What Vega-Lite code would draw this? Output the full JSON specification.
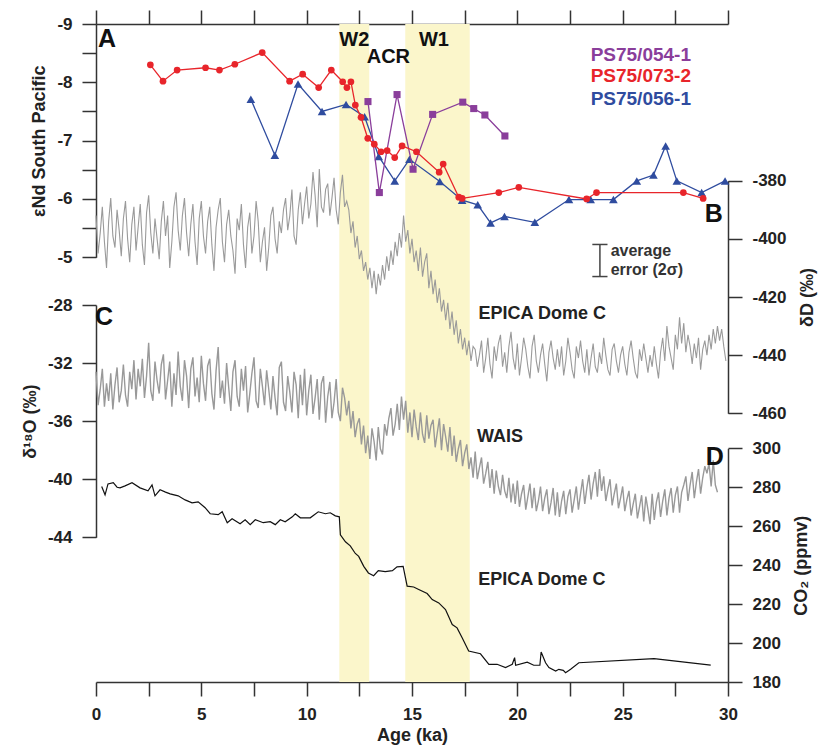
{
"$schema":"https://vega.github.io/schema/vega-lite/v6.json",
"width":632,"height":658,"autosize":"none",
"padding":{"left":96,"top":24,"right":90,"bottom":66},
"background":"white",
"config":{"view":{"stroke":null},"font":"Liberation Sans",
"axis":{"grid":false,"domainColor":"#333","tickColor":"#333","domainWidth":1.5,"tickWidth":1.5,"tickSize":14,"labelFontSize":17,"labelFontWeight":"bold","labelColor":"#222","titleFontSize":18,"titleFontWeight":"bold","titleColor":"#222","labelPadding":10,"labelFlush":false,"labelOverlap":false},
"text":{"font":"Liberation Sans","fontWeight":"bold"}},
"datasets":{
"bands":[{"a":11.55,"a2":12.97},{"a":14.68,"a2":17.74}],
"red":[{"a":2.58,"v":-8.30},{"a":3.18,"v":-8.02},{"a":3.85,"v":-8.21},{"a":5.20,"v":-8.25},{"a":5.86,"v":-8.21},{"a":6.59,"v":-8.31},{"a":7.89,"v":-8.51},{"a":9.19,"v":-8.02},{"a":9.81,"v":-8.14},{"a":10.57,"v":-7.91},{"a":11.17,"v":-8.21},{"a":11.71,"v":-8.01},{"a":11.91,"v":-7.91},{"a":12.10,"v":-8.01},{"a":12.31,"v":-7.61},{"a":12.58,"v":-7.40},{"a":12.90,"v":-7.04},{"a":13.21,"v":-6.94},{"a":13.53,"v":-6.81},{"a":13.82,"v":-6.83},{"a":14.18,"v":-6.71},{"a":14.53,"v":-6.91},{"a":15.21,"v":-6.81},{"a":16.29,"v":-6.46},{"a":16.48,"v":-6.60},{"a":17.22,"v":-6.03},{"a":17.38,"v":-6.01},{"a":19.12,"v":-6.11},{"a":20.07,"v":-6.20},{"a":23.29,"v":-6.00},{"a":23.76,"v":-6.11},{"a":27.88,"v":-6.11},{"a":28.82,"v":-6.01}],
"blue":[{"a":7.35,"v":-7.71},{"a":8.49,"v":-6.75},{"a":9.59,"v":-7.97},{"a":10.73,"v":-7.50},{"a":11.87,"v":-7.62},{"a":12.75,"v":-7.41},{"a":13.42,"v":-6.73},{"a":14.18,"v":-6.31},{"a":14.88,"v":-6.68},{"a":16.32,"v":-6.30},{"a":17.38,"v":-5.98},{"a":18.12,"v":-5.90},{"a":18.73,"v":-5.59},{"a":19.39,"v":-5.70},{"a":20.83,"v":-5.60},{"a":22.45,"v":-5.99},{"a":23.48,"v":-5.99},{"a":24.56,"v":-5.99},{"a":25.67,"v":-6.31},{"a":26.46,"v":-6.41},{"a":27.04,"v":-6.91},{"a":27.57,"v":-6.31},{"a":28.75,"v":-6.11},{"a":29.86,"v":-6.31}],
"purple":[{"a":12.91,"v":-7.67},{"a":13.45,"v":-6.11},{"a":14.29,"v":-7.79},{"a":15.05,"v":-6.51},{"a":15.98,"v":-7.45},{"a":17.41,"v":-7.66},{"a":17.93,"v":-7.55},{"a":18.46,"v":-7.44},{"a":19.41,"v":-7.08}],
"err":[{"a":23.92,"lo":-5.22,"hi":-4.67}],
"caps":[{"a":23.56,"a2":24.28,"v":-5.22},{"a":23.56,"a2":24.28,"v":-4.67}],
"letterA":[{"a":0.52,"v":-8.74,"t":"A"}],
"events":[{"a":12.26,"v":-8.73,"t":"W2"},{"a":13.88,"v":-8.44,"t":"ACR"},{"a":16.04,"v":-8.73,"t":"W1"}],
"legend":[{"a":23.48,"v":-8.46,"t":"PS75/054-1"},{"a":23.48,"v":-8.11,"t":"PS75/073-2"},{"a":23.48,"v":-7.72,"t":"PS75/056-1"}],
"errtext":[{"a":24.43,"v":-5.11,"t":"average"},{"a":24.43,"v":-4.79,"t":"error (2σ)"}],
"letterB":[{"a":29.33,"v":-391.3,"t":"B"}],
"labelB":[{"a":18.16,"v":-426.0,"t":"EPICA Dome C"}],
"letterC":[{"a":0.38,"v":-28.83,"t":"C"}],
"labelC":[{"a":18.09,"v":-37.07,"t":"WAIS"}],
"letterD":[{"a":29.37,"v":295.6,"t":"D"}],
"labelD":[{"a":18.14,"v":232.4,"t":"EPICA Dome C"}],
"dd":[{"a":0,"v":-392},{"a":0.1,"v":-405},{"a":0.2,"v":-398},{"a":0.3,"v":-389},{"a":0.4,"v":-401},{"a":0.5,"v":-410},{"a":0.6,"v":-394},{"a":0.7,"v":-386},{"a":0.8,"v":-399},{"a":0.9,"v":-403},
{"a":1,"v":-390},{"a":1.1,"v":-397},{"a":1.2,"v":-406},{"a":1.3,"v":-393},{"a":1.4,"v":-387},{"a":1.5,"v":-400},{"a":1.6,"v":-408},{"a":1.7,"v":-395},{"a":1.8,"v":-389},{"a":1.9,"v":-404},
{"a":2,"v":-396},{"a":2.1,"v":-388},{"a":2.2,"v":-402},{"a":2.3,"v":-409},{"a":2.4,"v":-391},{"a":2.5,"v":-385},{"a":2.6,"v":-398},{"a":2.7,"v":-405},{"a":2.8,"v":-393},{"a":2.9,"v":-400},
{"a":3,"v":-407},{"a":3.1,"v":-394},{"a":3.2,"v":-387},{"a":3.3,"v":-399},{"a":3.4,"v":-392},{"a":3.5,"v":-410},{"a":3.6,"v":-401},{"a":3.7,"v":-389},{"a":3.8,"v":-384},{"a":3.9,"v":-397},
{"a":4,"v":-404},{"a":4.1,"v":-392},{"a":4.2,"v":-386},{"a":4.3,"v":-398},{"a":4.4,"v":-406},{"a":4.5,"v":-395},{"a":4.6,"v":-388},{"a":4.7,"v":-401},{"a":4.8,"v":-409},{"a":4.9,"v":-393},
{"a":5,"v":-387},{"a":5.1,"v":-399},{"a":5.2,"v":-405},{"a":5.3,"v":-394},{"a":5.4,"v":-389},{"a":5.5,"v":-402},{"a":5.6,"v":-411},{"a":5.7,"v":-396},{"a":5.8,"v":-390},{"a":5.9,"v":-386},
{"a":6,"v":-401},{"a":6.1,"v":-408},{"a":6.2,"v":-395},{"a":6.3,"v":-390},{"a":6.4,"v":-399},{"a":6.5,"v":-404},{"a":6.6,"v":-412},{"a":6.7,"v":-393},{"a":6.8,"v":-397},{"a":6.9,"v":-388},
{"a":7,"v":-402},{"a":7.1,"v":-410},{"a":7.2,"v":-396},{"a":7.3,"v":-391},{"a":7.4,"v":-405},{"a":7.5,"v":-399},{"a":7.6,"v":-387},{"a":7.7,"v":-394},{"a":7.8,"v":-408},{"a":7.9,"v":-401},
{"a":8,"v":-396},{"a":8.1,"v":-411},{"a":8.2,"v":-403},{"a":8.3,"v":-392},{"a":8.4,"v":-389},{"a":8.5,"v":-400},{"a":8.6,"v":-405},{"a":8.7,"v":-394},{"a":8.8,"v":-398},{"a":8.9,"v":-390},
{"a":9,"v":-386},{"a":9.1,"v":-397},{"a":9.2,"v":-392},{"a":9.3,"v":-383},{"a":9.4,"v":-399},{"a":9.5,"v":-402},{"a":9.6,"v":-390},{"a":9.7,"v":-384},{"a":9.8,"v":-395},{"a":9.9,"v":-388},
{"a":10,"v":-382},{"a":10.1,"v":-393},{"a":10.2,"v":-388},{"a":10.3,"v":-377},{"a":10.4,"v":-385},{"a":10.5,"v":-396},{"a":10.6,"v":-376},{"a":10.7,"v":-389},{"a":10.8,"v":-391},{"a":10.9,"v":-383},
{"a":11,"v":-381},{"a":11.1,"v":-392},{"a":11.2,"v":-386},{"a":11.3,"v":-379},{"a":11.4,"v":-390},{"a":11.5,"v":-395},{"a":11.6,"v":-384},{"a":11.7,"v":-378},{"a":11.8,"v":-389},{"a":11.9,"v":-387},
{"a":12,"v":-390},{"a":12.1,"v":-398},{"a":12.2,"v":-394},{"a":12.3,"v":-403},{"a":12.4,"v":-399},{"a":12.5,"v":-407},{"a":12.6,"v":-404},{"a":12.7,"v":-411},{"a":12.8,"v":-408},{"a":12.9,"v":-414},
{"a":13,"v":-410},{"a":13.1,"v":-417},{"a":13.2,"v":-411},{"a":13.3,"v":-419},{"a":13.4,"v":-412},{"a":13.5,"v":-416},{"a":13.6,"v":-409},{"a":13.7,"v":-414},{"a":13.8,"v":-406},{"a":13.9,"v":-411},
{"a":14,"v":-404},{"a":14.1,"v":-409},{"a":14.2,"v":-401},{"a":14.3,"v":-406},{"a":14.4,"v":-398},{"a":14.5,"v":-403},{"a":14.6,"v":-392},{"a":14.7,"v":-401},{"a":14.8,"v":-397},{"a":14.9,"v":-405},
{"a":15,"v":-400},{"a":15.1,"v":-408},{"a":15.2,"v":-404},{"a":15.3,"v":-411},{"a":15.4,"v":-403},{"a":15.5,"v":-413},{"a":15.6,"v":-408},{"a":15.7,"v":-405},{"a":15.8,"v":-417},{"a":15.9,"v":-411},
{"a":16,"v":-419},{"a":16.1,"v":-414},{"a":16.2,"v":-422},{"a":16.3,"v":-417},{"a":16.4,"v":-425},{"a":16.5,"v":-421},{"a":16.6,"v":-428},{"a":16.7,"v":-422},{"a":16.8,"v":-431},{"a":16.9,"v":-425},
{"a":17,"v":-433},{"a":17.1,"v":-428},{"a":17.2,"v":-436},{"a":17.3,"v":-431},{"a":17.4,"v":-438},{"a":17.5,"v":-434},{"a":17.6,"v":-440},{"a":17.7,"v":-435},{"a":17.8,"v":-442},{"a":17.9,"v":-437},
{"a":18,"v":-438},{"a":18.1,"v":-444},{"a":18.2,"v":-440},{"a":18.3,"v":-435},{"a":18.4,"v":-446},{"a":18.5,"v":-441},{"a":18.6,"v":-434},{"a":18.7,"v":-443},{"a":18.8,"v":-448},{"a":18.9,"v":-437},
{"a":19,"v":-442},{"a":19.1,"v":-436},{"a":19.2,"v":-433},{"a":19.3,"v":-444},{"a":19.4,"v":-439},{"a":19.5,"v":-446},{"a":19.6,"v":-437},{"a":19.7,"v":-432},{"a":19.8,"v":-441},{"a":19.9,"v":-445},
{"a":20,"v":-436},{"a":20.1,"v":-447},{"a":20.2,"v":-441},{"a":20.3,"v":-434},{"a":20.4,"v":-438},{"a":20.5,"v":-444},{"a":20.6,"v":-448},{"a":20.7,"v":-437},{"a":20.8,"v":-433},{"a":20.9,"v":-442},
{"a":21,"v":-446},{"a":21.1,"v":-440},{"a":21.2,"v":-436},{"a":21.3,"v":-443},{"a":21.4,"v":-449},{"a":21.5,"v":-439},{"a":21.6,"v":-435},{"a":21.7,"v":-441},{"a":21.8,"v":-445},{"a":21.9,"v":-438},
{"a":22,"v":-444},{"a":22.1,"v":-437},{"a":22.2,"v":-447},{"a":22.3,"v":-442},{"a":22.4,"v":-434},{"a":22.5,"v":-439},{"a":22.6,"v":-445},{"a":22.7,"v":-448},{"a":22.8,"v":-437},{"a":22.9,"v":-441},
{"a":23,"v":-435},{"a":23.1,"v":-442},{"a":23.2,"v":-446},{"a":23.3,"v":-438},{"a":23.4,"v":-447},{"a":23.5,"v":-441},{"a":23.6,"v":-436},{"a":23.7,"v":-444},{"a":23.8,"v":-446},{"a":23.9,"v":-439},
{"a":24,"v":-443},{"a":24.1,"v":-434},{"a":24.2,"v":-440},{"a":24.3,"v":-445},{"a":24.4,"v":-447},{"a":24.5,"v":-438},{"a":24.6,"v":-436},{"a":24.7,"v":-442},{"a":24.8,"v":-446},{"a":24.9,"v":-440},
{"a":25,"v":-437},{"a":25.1,"v":-443},{"a":25.2,"v":-447},{"a":25.3,"v":-439},{"a":25.4,"v":-435},{"a":25.5,"v":-441},{"a":25.6,"v":-446},{"a":25.7,"v":-448},{"a":25.8,"v":-438},{"a":25.9,"v":-442},
{"a":26,"v":-436},{"a":26.1,"v":-441},{"a":26.2,"v":-446},{"a":26.3,"v":-440},{"a":26.4,"v":-444},{"a":26.5,"v":-437},{"a":26.6,"v":-443},{"a":26.7,"v":-448},{"a":26.8,"v":-439},{"a":26.9,"v":-434},
{"a":27,"v":-442},{"a":27.1,"v":-430},{"a":27.2,"v":-437},{"a":27.3,"v":-441},{"a":27.4,"v":-445},{"a":27.5,"v":-433},{"a":27.6,"v":-438},{"a":27.7,"v":-427},{"a":27.8,"v":-436},{"a":27.9,"v":-429},
{"a":28,"v":-439},{"a":28.1,"v":-433},{"a":28.2,"v":-437},{"a":28.3,"v":-443},{"a":28.4,"v":-436},{"a":28.5,"v":-441},{"a":28.6,"v":-434},{"a":28.7,"v":-445},{"a":28.8,"v":-438},{"a":28.9,"v":-435},
{"a":29,"v":-440},{"a":29.1,"v":-433},{"a":29.2,"v":-438},{"a":29.3,"v":-431},{"a":29.4,"v":-436},{"a":29.5,"v":-430},{"a":29.6,"v":-435},{"a":29.7,"v":-431},{"a":29.8,"v":-437},{"a":29.9,"v":-442}],
"wais":[{"a":0,"v":-32.6},{"a":0.1,"v":-34.9},{"a":0.2,"v":-33.8},{"a":0.3,"v":-32.4},{"a":0.4,"v":-35.0},{"a":0.5,"v":-33.4},{"a":0.6,"v":-34.6},{"a":0.7,"v":-32.7},{"a":0.8,"v":-35.2},{"a":0.9,"v":-33.5},
{"a":1,"v":-32.3},{"a":1.1,"v":-34.7},{"a":1.2,"v":-33.9},{"a":1.3,"v":-32.1},{"a":1.4,"v":-34.2},{"a":1.5,"v":-35.0},{"a":1.6,"v":-32.6},{"a":1.7,"v":-33.8},{"a":1.8,"v":-31.8},{"a":1.9,"v":-34.5},
{"a":2,"v":-32.4},{"a":2.1,"v":-33.6},{"a":2.2,"v":-31.7},{"a":2.3,"v":-34.4},{"a":2.4,"v":-32.9},{"a":2.5,"v":-30.6},{"a":2.6,"v":-33.9},{"a":2.7,"v":-34.6},{"a":2.8,"v":-31.9},{"a":2.9,"v":-33.2},
{"a":3,"v":-34.1},{"a":3.1,"v":-32.1},{"a":3.2,"v":-31.4},{"a":3.3,"v":-34.5},{"a":3.4,"v":-33.2},{"a":3.5,"v":-31.9},{"a":3.6,"v":-35.0},{"a":3.7,"v":-32.7},{"a":3.8,"v":-34.2},{"a":3.9,"v":-31.2},
{"a":4,"v":-33.6},{"a":4.1,"v":-34.6},{"a":4.2,"v":-31.8},{"a":4.3,"v":-32.9},{"a":4.4,"v":-35.1},{"a":4.5,"v":-32.4},{"a":4.6,"v":-31.6},{"a":4.7,"v":-34.3},{"a":4.8,"v":-33.0},{"a":4.9,"v":-34.7},
{"a":5,"v":-31.5},{"a":5.1,"v":-33.4},{"a":5.2,"v":-34.6},{"a":5.3,"v":-32.2},{"a":5.4,"v":-31.7},{"a":5.5,"v":-34.1},{"a":5.6,"v":-35.2},{"a":5.7,"v":-32.5},{"a":5.8,"v":-30.9},{"a":5.9,"v":-34.4},
{"a":6,"v":-33.2},{"a":6.1,"v":-34.8},{"a":6.2,"v":-32.0},{"a":6.3,"v":-33.7},{"a":6.4,"v":-35.3},{"a":6.5,"v":-32.6},{"a":6.6,"v":-31.8},{"a":6.7,"v":-34.3},{"a":6.8,"v":-35.0},{"a":6.9,"v":-32.4},
{"a":7,"v":-33.9},{"a":7.1,"v":-32.2},{"a":7.2,"v":-35.4},{"a":7.3,"v":-34.1},{"a":7.4,"v":-32.7},{"a":7.5,"v":-31.6},{"a":7.6,"v":-34.6},{"a":7.7,"v":-35.1},{"a":7.8,"v":-32.4},{"a":7.9,"v":-33.6},
{"a":8,"v":-34.9},{"a":8.1,"v":-32.5},{"a":8.2,"v":-33.8},{"a":8.3,"v":-35.2},{"a":8.4,"v":-32.9},{"a":8.5,"v":-34.4},{"a":8.6,"v":-35.6},{"a":8.7,"v":-32.3},{"a":8.8,"v":-31.9},{"a":8.9,"v":-34.7},
{"a":9,"v":-35.3},{"a":9.1,"v":-32.9},{"a":9.2,"v":-34.0},{"a":9.3,"v":-35.4},{"a":9.4,"v":-32.6},{"a":9.5,"v":-33.5},{"a":9.6,"v":-35.8},{"a":9.7,"v":-32.8},{"a":9.8,"v":-34.9},{"a":9.9,"v":-32.4},
{"a":10,"v":-35.6},{"a":10.1,"v":-33.9},{"a":10.2,"v":-32.8},{"a":10.3,"v":-35.5},{"a":10.4,"v":-34.4},{"a":10.5,"v":-33.1},{"a":10.6,"v":-35.9},{"a":10.7,"v":-33.4},{"a":10.8,"v":-32.9},{"a":10.9,"v":-36.1},
{"a":11,"v":-34.3},{"a":11.1,"v":-33.3},{"a":11.2,"v":-35.8},{"a":11.3,"v":-34.7},{"a":11.4,"v":-33.1},{"a":11.5,"v":-35.4},{"a":11.6,"v":-36.0},{"a":11.7,"v":-33.7},{"a":11.8,"v":-34.4},{"a":11.9,"v":-35.6},
{"a":12,"v":-34.6},{"a":12.1,"v":-36.5},{"a":12.2,"v":-35.3},{"a":12.3,"v":-37.1},{"a":12.4,"v":-36.2},{"a":12.5,"v":-35.8},{"a":12.6,"v":-37.6},{"a":12.7,"v":-36.3},{"a":12.8,"v":-38.2},{"a":12.9,"v":-37.0},
{"a":13,"v":-38.6},{"a":13.1,"v":-36.5},{"a":13.2,"v":-37.4},{"a":13.3,"v":-38.7},{"a":13.4,"v":-36.4},{"a":13.5,"v":-37.9},{"a":13.6,"v":-38.3},{"a":13.7,"v":-36.2},{"a":13.8,"v":-37.0},{"a":13.9,"v":-35.8},
{"a":14,"v":-35.1},{"a":14.1,"v":-37.0},{"a":14.2,"v":-36.2},{"a":14.3,"v":-34.8},{"a":14.4,"v":-36.6},{"a":14.5,"v":-34.3},{"a":14.6,"v":-35.9},{"a":14.7,"v":-34.6},{"a":14.8,"v":-36.8},{"a":14.9,"v":-35.4},
{"a":15,"v":-37.1},{"a":15.1,"v":-35.2},{"a":15.2,"v":-36.4},{"a":15.3,"v":-37.3},{"a":15.4,"v":-35.4},{"a":15.5,"v":-36.9},{"a":15.6,"v":-37.5},{"a":15.7,"v":-35.6},{"a":15.8,"v":-37.2},{"a":15.9,"v":-36.3},
{"a":16,"v":-35.9},{"a":16.1,"v":-37.8},{"a":16.2,"v":-36.8},{"a":16.3,"v":-35.8},{"a":16.4,"v":-38.0},{"a":16.5,"v":-36.2},{"a":16.6,"v":-37.1},{"a":16.7,"v":-38.1},{"a":16.8,"v":-36.4},{"a":16.9,"v":-38.4},
{"a":17,"v":-37.0},{"a":17.1,"v":-38.8},{"a":17.2,"v":-37.9},{"a":17.3,"v":-37.3},{"a":17.4,"v":-39.1},{"a":17.5,"v":-38.2},{"a":17.6,"v":-37.6},{"a":17.7,"v":-39.3},{"a":17.8,"v":-38.5},{"a":17.9,"v":-39.9},
{"a":18,"v":-38.1},{"a":18.1,"v":-40.0},{"a":18.2,"v":-39.2},{"a":18.3,"v":-38.5},{"a":18.4,"v":-40.3},{"a":18.5,"v":-39.6},{"a":18.6,"v":-38.8},{"a":18.7,"v":-40.6},{"a":18.8,"v":-39.3},{"a":18.9,"v":-41.0},
{"a":19,"v":-39.4},{"a":19.1,"v":-40.5},{"a":19.2,"v":-41.1},{"a":19.3,"v":-39.7},{"a":19.4,"v":-40.8},{"a":19.5,"v":-41.3},{"a":19.6,"v":-39.9},{"a":19.7,"v":-41.6},{"a":19.8,"v":-40.3},{"a":19.9,"v":-41.7},
{"a":20,"v":-40.1},{"a":20.1,"v":-41.9},{"a":20.2,"v":-41.0},{"a":20.3,"v":-40.4},{"a":20.4,"v":-42.1},{"a":20.5,"v":-41.2},{"a":20.6,"v":-40.3},{"a":20.7,"v":-42.0},{"a":20.8,"v":-40.6},{"a":20.9,"v":-42.2},
{"a":21,"v":-41.5},{"a":21.1,"v":-40.5},{"a":21.2,"v":-42.2},{"a":21.3,"v":-41.3},{"a":21.4,"v":-40.7},{"a":21.5,"v":-42.4},{"a":21.6,"v":-41.6},{"a":21.7,"v":-40.6},{"a":21.8,"v":-42.5},{"a":21.9,"v":-40.9},
{"a":22,"v":-42.6},{"a":22.1,"v":-41.5},{"a":22.2,"v":-40.8},{"a":22.3,"v":-42.4},{"a":22.4,"v":-41.2},{"a":22.5,"v":-40.7},{"a":22.6,"v":-42.3},{"a":22.7,"v":-41.4},{"a":22.8,"v":-40.5},{"a":22.9,"v":-42.1},
{"a":23,"v":-41.0},{"a":23.1,"v":-40.0},{"a":23.2,"v":-41.7},{"a":23.3,"v":-40.6},{"a":23.4,"v":-39.7},{"a":23.5,"v":-41.4},{"a":23.6,"v":-40.3},{"a":23.7,"v":-39.5},{"a":23.8,"v":-41.2},{"a":23.9,"v":-39.3},
{"a":24,"v":-40.8},{"a":24.1,"v":-39.8},{"a":24.2,"v":-41.5},{"a":24.3,"v":-40.7},{"a":24.4,"v":-40.0},{"a":24.5,"v":-41.8},{"a":24.6,"v":-41.0},{"a":24.7,"v":-40.3},{"a":24.8,"v":-42.0},{"a":24.9,"v":-41.3},
{"a":25,"v":-40.5},{"a":25.1,"v":-42.2},{"a":25.2,"v":-41.4},{"a":25.3,"v":-40.8},{"a":25.4,"v":-42.5},{"a":25.5,"v":-41.7},{"a":25.6,"v":-41.0},{"a":25.7,"v":-42.7},{"a":25.8,"v":-41.9},{"a":25.9,"v":-41.1},
{"a":26,"v":-42.9},{"a":26.1,"v":-41.2},{"a":26.2,"v":-42.1},{"a":26.3,"v":-43.1},{"a":26.4,"v":-41.0},{"a":26.5,"v":-42.8},{"a":26.6,"v":-41.6},{"a":26.7,"v":-40.9},{"a":26.8,"v":-42.6},{"a":26.9,"v":-41.5},
{"a":27,"v":-40.7},{"a":27.1,"v":-42.5},{"a":27.2,"v":-41.3},{"a":27.3,"v":-40.6},{"a":27.4,"v":-42.3},{"a":27.5,"v":-41.1},{"a":27.6,"v":-40.5},{"a":27.7,"v":-42.3},{"a":27.8,"v":-40.9},{"a":27.9,"v":-40.4},
{"a":28,"v":-39.8},{"a":28.1,"v":-41.5},{"a":28.2,"v":-40.4},{"a":28.3,"v":-39.5},{"a":28.4,"v":-41.3},{"a":28.5,"v":-40.2},{"a":28.6,"v":-39.3},{"a":28.7,"v":-41.0},{"a":28.8,"v":-39.9},{"a":28.9,"v":-39.1},
{"a":29,"v":-39.6},{"a":29.1,"v":-38.9},{"a":29.2,"v":-40.5},{"a":29.3,"v":-38.7},{"a":29.4,"v":-40.4},{"a":29.5,"v":-40.9}],
"co2":[{"a":0.27,"v":280.4},{"a":0.43,"v":276.1},{"a":0.57,"v":281.7},{"a":0.82,"v":282.4},{"a":1.0,"v":280.0},{"a":1.14,"v":279.7},{"a":1.38,"v":280.7},{"a":1.71,"v":282.3},{"a":2.09,"v":279.7},{"a":2.47,"v":278.2},{"a":2.66,"v":281.2},{"a":2.8,"v":275.6},{"a":3.04,"v":278.7},{"a":3.3,"v":277.5},{"a":3.52,"v":276.6},{"a":3.9,"v":275.6},{"a":4.23,"v":273.5},{"a":4.56,"v":272.0},{"a":4.85,"v":272.5},{"a":5.18,"v":269.5},{"a":5.42,"v":266.4},{"a":5.8,"v":265.9},{"a":5.99,"v":267.4},{"a":6.23,"v":261.8},{"a":6.46,"v":263.8},{"a":6.84,"v":261.3},{"a":7.08,"v":263.3},{"a":7.32,"v":260.8},{"a":7.56,"v":263.3},{"a":7.94,"v":261.8},{"a":8.27,"v":262.3},{"a":8.51,"v":260.8},{"a":8.75,"v":263.3},{"a":8.98,"v":262.3},{"a":9.32,"v":264.8},{"a":9.46,"v":266.4},{"a":9.7,"v":264.3},{"a":10.17,"v":264.3},{"a":10.55,"v":267.4},{"a":10.89,"v":266.4},{"a":11.12,"v":266.9},{"a":11.36,"v":265.3},{"a":11.55,"v":264.8},{"a":11.6,"v":255.6},{"a":11.84,"v":252.0},{"a":12.07,"v":249.9},{"a":12.31,"v":246.0},{"a":12.47,"v":244.5},{"a":12.71,"v":239.4},{"a":12.93,"v":236.0},{"a":13.18,"v":234.6},{"a":13.4,"v":237.2},{"a":13.73,"v":236.7},{"a":14.07,"v":237.2},{"a":14.29,"v":239.1},{"a":14.58,"v":239.4},{"a":14.77,"v":229.2},{"a":15.08,"v":228.8},{"a":15.32,"v":227.5},{"a":15.72,"v":225.4},{"a":15.96,"v":222.3},{"a":16.27,"v":220.6},{"a":16.59,"v":217.2},{"a":16.91,"v":209.5},{"a":17.14,"v":207.8},{"a":17.38,"v":202.7},{"a":17.69,"v":195.9},{"a":18.25,"v":194.5},{"a":18.65,"v":189.1},{"a":19.04,"v":189.1},{"a":19.44,"v":187.4},{"a":19.76,"v":189.1},{"a":19.87,"v":192.5},{"a":19.92,"v":188.6},{"a":20.47,"v":190.2},{"a":20.78,"v":188.6},{"a":21.07,"v":188.6},{"a":21.13,"v":195.4},{"a":21.34,"v":189.9},{"a":21.5,"v":187.4},{"a":21.82,"v":185.6},{"a":21.97,"v":186.5},{"a":22.18,"v":186.0},{"a":22.29,"v":184.8},{"a":22.53,"v":186.5},{"a":22.92,"v":189.9},{"a":26.49,"v":192.0},{"a":29.18,"v":188.7}]
},
"layer":[
{"data":{"name":"bands"},"mark":{"type":"rect","color":"#FBF6CB"},
 "encoding":{"x":{"field":"a","type":"quantitative","scale":{"domain":[0,30],"nice":false,"zero":false},
  "axis":{"orient":"bottom","values":[0,2.5,5,7.5,10,12.5,15,17.5,20,22.5,25,27.5,30],"labelExpr":"datum.value % 5 === 0 ? datum.label : ''","title":"Age (ka)","labelPadding":10,"titlePadding":4}},
  "x2":{"field":"a2"}}},
{"encoding":{"x":{"field":"a","type":"quantitative","scale":{"domain":[0,30],"nice":false,"zero":false},"axis":null},
  "y":{"field":"v","type":"quantitative","scale":{"domain":[-460,-380],"range":[389.3,156.7],"nice":false,"zero":false},
   "axis":{"orient":"right","values":[-380,-400,-420,-440,-460],"labelExpr":"toString(datum.value)","title":"δD (‰)","titleAngle":270,"titleBaseline":"top","titlePadding":12}}},
 "layer":[
  {"data":{"name":"dd"},"mark":{"type":"line","color":"#9A9A9A","strokeWidth":1.1}},
  {"data":{"name":"letterB"},"mark":{"type":"text","fontSize":25,"align":"center","baseline":"middle","color":"#111"},"encoding":{"text":{"field":"t"}}},
  {"data":{"name":"labelB"},"mark":{"type":"text","fontSize":18,"align":"left","baseline":"middle","color":"#222"},"encoding":{"text":{"field":"t"}}}
 ]},
{"encoding":{"x":{"field":"a","type":"quantitative","scale":{"domain":[0,30],"nice":false,"zero":false},"axis":null},
  "y":{"field":"v","type":"quantitative","scale":{"domain":[-44,-28],"range":[513.3,281],"nice":false,"zero":false},
   "axis":{"orient":"left","values":[-28,-32,-36,-40,-44],"labelExpr":"toString(datum.value)","title":"δ¹⁸O (‰)","titlePadding":8}}},
 "layer":[
  {"data":{"name":"wais"},"mark":{"type":"line","color":"#999999","strokeWidth":1.4}},
  {"data":{"name":"letterC"},"mark":{"type":"text","fontSize":25,"align":"center","baseline":"middle","color":"#111"},"encoding":{"text":{"field":"t"}}},
  {"data":{"name":"labelC"},"mark":{"type":"text","fontSize":18,"align":"left","baseline":"middle","color":"#222"},"encoding":{"text":{"field":"t"}}}
 ]},
{"encoding":{"x":{"field":"a","type":"quantitative","scale":{"domain":[0,30],"nice":false,"zero":false},"axis":null},
  "y":{"field":"v","type":"quantitative","scale":{"domain":[180,300],"range":[658,424.3],"nice":false,"zero":false},
   "axis":{"orient":"right","values":[180,200,220,240,260,280,300],"title":"CO₂ (ppmv)","titleAngle":270,"titleBaseline":"top","titlePadding":12}}},
 "layer":[
  {"data":{"name":"co2"},"mark":{"type":"line","color":"#111","strokeWidth":1.2}},
  {"data":{"name":"letterD"},"mark":{"type":"text","fontSize":25,"align":"center","baseline":"middle","color":"#111"},"encoding":{"text":{"field":"t"}}},
  {"data":{"name":"labelD"},"mark":{"type":"text","fontSize":18,"align":"left","baseline":"middle","color":"#222"},"encoding":{"text":{"field":"t"}}}
 ]},
{"encoding":{"x":{"field":"a","type":"quantitative","scale":{"domain":[0,30],"nice":false,"zero":false},
   "axis":{"orient":"top","values":[0,2.5,5,7.5,10,12.5,15,17.5,20,22.5,25,27.5,30],"labels":false,"title":null}},
  "y":{"field":"v","type":"quantitative","scale":{"domain":[-9,-5],"range":[0,233.3],"nice":false,"zero":false},
   "axis":{"orient":"left","values":[-9,-8.5,-8,-7.5,-7,-6.5,-6,-5.5,-5],"labelExpr":"datum.value % 1 === 0 ? toString(datum.value) : ''","title":"εNd South Pacific","titlePadding":8}}},
 "layer":[
  {"data":{"name":"blue"},"mark":{"type":"line","color":"#2F4C9F","strokeWidth":1.3}},
  {"data":{"name":"blue"},"mark":{"type":"point","shape":"triangle-up","filled":true,"size":75,"color":"#2F4C9F","opacity":1}},
  {"data":{"name":"purple"},"mark":{"type":"line","color":"#8A3E9B","strokeWidth":1.3}},
  {"data":{"name":"purple"},"mark":{"type":"point","shape":"square","filled":true,"size":50,"color":"#8A3E9B","opacity":1}},
  {"data":{"name":"red"},"mark":{"type":"line","color":"#E8252B","strokeWidth":1.3}},
  {"data":{"name":"red"},"mark":{"type":"point","shape":"circle","filled":true,"size":45,"color":"#E8252B","opacity":1}},
  {"data":{"name":"err"},"mark":{"type":"rule","color":"#444","strokeWidth":1.5},"encoding":{"y":{"field":"lo","type":"quantitative"},"y2":{"field":"hi"}}},
  {"data":{"name":"caps"},"mark":{"type":"rule","color":"#444","strokeWidth":1.5},"encoding":{"x2":{"field":"a2"}}},
  {"data":{"name":"letterA"},"mark":{"type":"text","fontSize":25,"align":"center","baseline":"middle","color":"#111"},"encoding":{"text":{"field":"t"}}},
  {"data":{"name":"events"},"mark":{"type":"text","fontSize":20,"align":"center","baseline":"middle","color":"#111"},"encoding":{"text":{"field":"t"}}},
  {"data":{"name":"legend"},"mark":{"type":"text","fontSize":19,"align":"left","baseline":"middle"},"encoding":{"text":{"field":"t"},"color":{"field":"t","type":"nominal","scale":{"domain":["PS75/054-1","PS75/073-2","PS75/056-1"],"range":["#8A3E9B","#E8252B","#2F4C9F"]},"legend":null}}},
  {"data":{"name":"errtext"},"mark":{"type":"text","fontSize":16,"align":"left","baseline":"middle","color":"#333"},"encoding":{"text":{"field":"t"}}}
 ]}
],
"resolve":{"scale":{"y":"independent","color":"independent"},"axis":{"x":"independent","y":"independent"}}
}
